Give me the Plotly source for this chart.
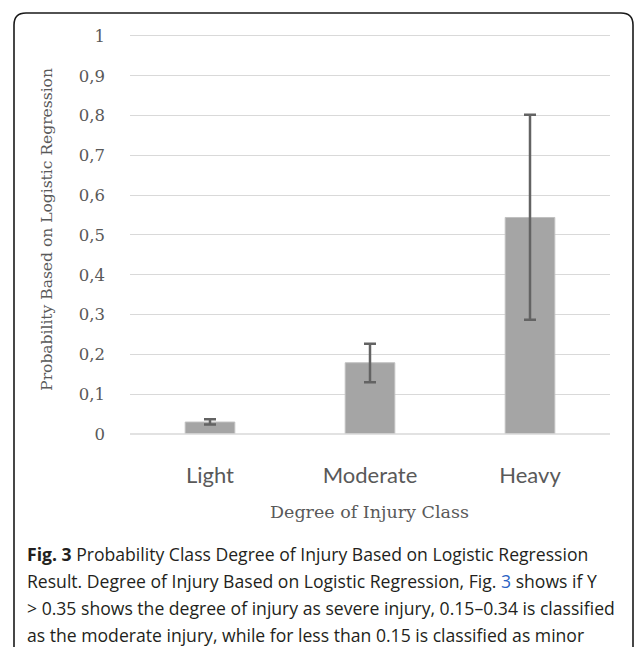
import plotly.graph_objects as go

categories = ["Light", "Moderate", "Heavy"]
probability = [0.030, 0.179, 0.544]
err_plus = [0.007, 0.048, 0.258]
err_minus = [0.006, 0.049, 0.257]
y_ticks = [0, 0.1, 0.2, 0.3, 0.4, 0.5, 0.6, 0.7, 0.8, 0.9, 1]
y_tick_labels = ["0", "0,1", "0,2", "0,3", "0,4", "0,5", "0,6", "0,7", "0,8", "0,9", "1"]
caption_lines = [
    "<b>Fig. 3</b> Probability Class Degree of Injury Based on Logistic Regression",
    "Result. Degree of Injury Based on Logistic Regression, Fig. <span style='color:#2a63c4'>3</span> shows if Y",
    "> 0.35 shows the degree of injury as severe injury, 0.15–0.34 is classified",
    "as the moderate injury, while for less than 0.15 is classified as minor",
]

W, H = 634, 647
L, R, T, B = 130, 610, 32, 434.5
Y_MAX = 1.01


def px(x):
    return (x - L) / (R - L)


def py(y):
    return (B - y) / (B - T)


fig = go.Figure()
fig.add_trace(go.Bar(
    x=categories, y=probability, width=0.31,
    marker=dict(color="#a5a5a5", line=dict(color="#c0c0c0", width=1)),
    error_y=dict(type="data", symmetric=False, array=err_plus, arrayminus=err_minus,
                 color="#636363", thickness=2.5, width=6),
))

serif = "DejaVu Serif"
fig.update_layout(
    width=W, height=H,
    margin=dict(l=L, r=W - R, t=T, b=H - B),
    plot_bgcolor="white", paper_bgcolor="white",
    showlegend=False,
    xaxis=dict(range=[-0.5, 2.5], showgrid=False, showline=False, zeroline=False,
               tickfont=dict(family="Lato", size=22, color="#595959"),
               ticklabelstandoff=26, ticks=""),
    yaxis=dict(range=[0, Y_MAX], tickvals=y_ticks, ticktext=y_tick_labels,
               showgrid=True, gridcolor="#d9d9d9", gridwidth=1,
               zeroline=False, showline=False,
               tickfont=dict(family=serif, size=16.5, color="#595959"),
               ticklabelstandoff=24, ticks=""),
)

# x-axis baseline (gridline-coloured)
fig.add_shape(type="line", xref="paper", yref="paper", x0=0, x1=1, y0=0, y1=0,
              line=dict(color="#d9d9d9", width=1.5))

annotations = [
    dict(text="Degree of Injury Class", x=px(369), y=py(513), xref="paper", yref="paper",
         showarrow=False, xanchor="center", yanchor="middle",
         font=dict(family=serif, size=17.5, color="#595959")),
    dict(text="Probability Based on Logistic Regression", x=px(47), y=py(230), xref="paper",
         yref="paper", showarrow=False, xanchor="center", yanchor="middle", textangle=-90,
         font=dict(family=serif, size=15.5, color="#595959")),
]
for i, line in enumerate(caption_lines):
    annotations.append(dict(text=line, x=px(25), y=py(555 + 27 * i), xref="paper", yref="paper",
                            showarrow=False, xanchor="left", yanchor="middle",
                            font=dict(family="Open Sans", size=17.6, color="#231f20")))
fig.update_layout(annotations=annotations)

# rounded frame around the figure
x0, y0, x1, y1, r = 14, 13, 633, 700, 12
path = (f"M {px(x0)},{py(y1)} L {px(x0)},{py(y0 + r)} "
        f"Q {px(x0)},{py(y0)} {px(x0 + r)},{py(y0)} "
        f"L {px(x1 - r)},{py(y0)} Q {px(x1)},{py(y0)} {px(x1)},{py(y0 + r)} "
        f"L {px(x1)},{py(y1)}")
fig.add_shape(type="path", xref="paper", yref="paper", path=path,
              line=dict(color="#1a1a1a", width=1.6))

fig.write_html("out.html")
